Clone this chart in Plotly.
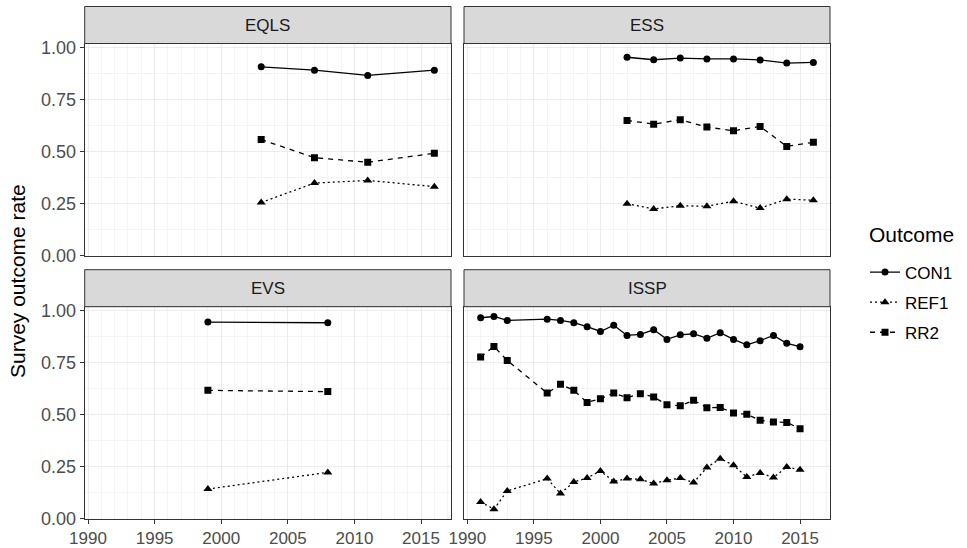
import plotly.graph_objects as go

# ---------------- data ----------------
panels = ["EQLS", "ESS", "EVS", "ISSP"]
outcomes = ["CON1", "REF1", "RR2"]

eqls_years = [2003, 2007, 2011, 2016]
eqls_con1 = [0.906, 0.890, 0.865, 0.890]
eqls_ref1 = [0.255, 0.348, 0.361, 0.331]
eqls_rr2 = [0.557, 0.470, 0.448, 0.491]

ess_years = [2002, 2004, 2006, 2008, 2010, 2012, 2014, 2016]
ess_con1 = [0.952, 0.940, 0.948, 0.944, 0.944, 0.939, 0.924, 0.927]
ess_ref1 = [0.249, 0.224, 0.239, 0.237, 0.261, 0.228, 0.271, 0.266]
ess_rr2 = [0.649, 0.631, 0.652, 0.617, 0.599, 0.620, 0.524, 0.544]

evs_years = [1999, 2008]
evs_con1 = [0.944, 0.941]
evs_ref1 = [0.142, 0.222]
evs_rr2 = [0.616, 0.610]

issp_years = [1991, 1992, 1993, 1996, 1997, 1998, 1999, 2000, 2001, 2002, 2003,
              2004, 2005, 2006, 2007, 2008, 2009, 2010, 2011, 2012, 2013, 2014, 2015]
issp_con1 = [0.965, 0.971, 0.952, 0.958, 0.952, 0.941, 0.922, 0.899, 0.929, 0.880, 0.885,
             0.907, 0.861, 0.883, 0.888, 0.866, 0.893, 0.861, 0.835, 0.855, 0.880, 0.842, 0.826]
issp_ref1 = [0.080, 0.045, 0.133, 0.192, 0.120, 0.176, 0.195, 0.229, 0.178, 0.192, 0.189,
             0.168, 0.184, 0.195, 0.173, 0.245, 0.288, 0.256, 0.200, 0.219, 0.197, 0.248, 0.235]
issp_rr2 = [0.776, 0.827, 0.760, 0.603, 0.645, 0.616, 0.558, 0.576, 0.603, 0.581, 0.600,
            0.584, 0.547, 0.542, 0.568, 0.533, 0.534, 0.507, 0.501, 0.472, 0.464, 0.462, 0.432]

x_ticks = [1990, 1995, 2000, 2005, 2010, 2015]
y_ticks = [0.00, 0.25, 0.50, 0.75, 1.00]
y_tick_labels = ["0.00", "0.25", "0.50", "0.75", "1.00"]

panel_data = {
    "EQLS": (eqls_years, {"CON1": eqls_con1, "REF1": eqls_ref1, "RR2": eqls_rr2}),
    "ESS": (ess_years, {"CON1": ess_con1, "REF1": ess_ref1, "RR2": ess_rr2}),
    "EVS": (evs_years, {"CON1": evs_con1, "REF1": evs_ref1, "RR2": evs_rr2}),
    "ISSP": (issp_years, {"CON1": issp_con1, "REF1": issp_ref1, "RR2": issp_rr2}),
}

# ---------------- styling ----------------
W, H = 967, 548
FONT = "Liberation Sans, Arial, sans-serif"
styles = {
    "CON1": dict(dash="solid", symbol="circle", size=7),
    "REF1": dict(dash="2px,3px", symbol="triangle-up", size=8),
    "RR2": dict(dash="5px,5px", symbol="square", size=7),
}

# pixel geometry -> paper
col_x = [(84.7, 451.0), (464.0, 830.0)]
row_y = [(43.5, 256.0), (306.7, 519.0)]  # plot area top/bottom in px
strip_h = 37.0

def px_x(p):
    return p / W

def px_y(p):
    return 1 - p / H

fig = go.Figure()
axis_ids = {"EQLS": ("x", "y"), "ESS": ("x2", "y2"), "EVS": ("x3", "y3"), "ISSP": ("x4", "y4")}
positions = {"EQLS": (0, 0), "ESS": (0, 1), "EVS": (1, 0), "ISSP": (1, 1)}

for panel in panels:
    years, series = panel_data[panel]
    xa, ya = axis_ids[panel]
    for oc in outcomes:
        st = styles[oc]
        fig.add_trace(go.Scatter(
            x=years, y=series[oc], xaxis=xa, yaxis=ya,
            mode="lines+markers", name=oc, legendgroup=oc,
            showlegend=(panel == "EQLS"),
            line=dict(color="black", width=1.3, dash=st["dash"]),
            marker=dict(color="black", symbol=st["symbol"], size=st["size"]),
        ))

grid_major = "#EBEBEB"
grid_minor = "#F4F4F4"

layout = dict(
    width=W, height=H,
    margin=dict(l=0, r=0, t=0, b=0, autoexpand=False),
    paper_bgcolor="white", plot_bgcolor="white",
    font=dict(family=FONT, color="#1A1A1A"),
    showlegend=True,
    legend=dict(
        font=dict(size=17, color="#000000"),
        x=px_x(865), xanchor="left", y=px_y(254.5), yanchor="top",
        tracegroupgap=5, bgcolor="rgba(0,0,0,0)",
    ),
)

shapes = []
annotations = []
for panel in panels:
    r, c = positions[panel]
    xa, ya = axis_ids[panel]
    xkey = "xaxis" if xa == "x" else "xaxis" + xa[1:]
    ykey = "yaxis" if ya == "y" else "yaxis" + ya[1:]
    x0, x1 = col_x[c]
    y0, y1 = row_y[r]
    bottom = (r == 1)
    left = (c == 0)
    layout[xkey] = dict(
        domain=[px_x(x0), px_x(x1)], anchor=ya, automargin=False,
        range=[1989.75, 2017.25], tickvals=x_ticks,
        showticklabels=bottom, ticks="outside" if bottom else "",
        ticklen=4, tickwidth=1, tickcolor="#333333",
        tickfont=dict(size=17, color="#4D4D4D", family=FONT),
        showgrid=True, gridcolor=grid_major, gridwidth=1.3,
        minor=dict(dtick=1, tick0=1990, showgrid=True, gridcolor=grid_minor, gridwidth=0.8),
        showline=True, mirror=True, linecolor="#333333", linewidth=1,
        zeroline=False,
    )
    layout[ykey] = dict(
        domain=[px_y(y1), px_y(y0)], anchor=xa, automargin=False,
        range=[-0.002, 1.018], tickvals=y_ticks, ticktext=y_tick_labels,
        showticklabels=left, ticks="outside" if left else "",
        ticklen=4, tickwidth=1, tickcolor="#333333",
        tickfont=dict(size=18, color="#4D4D4D", family=FONT),
        showgrid=True, gridcolor=grid_major, gridwidth=1.3,
        minor=dict(tickvals=[0.125, 0.375, 0.625, 0.875], showgrid=True,
                   gridcolor=grid_minor, gridwidth=0.8),
        showline=True, mirror=True, linecolor="#333333", linewidth=1,
        zeroline=False,
    )
    # strip
    shapes.append(dict(type="rect", xref="paper", yref="paper",
                       x0=px_x(x0), x1=px_x(x1), y0=px_y(y0), y1=px_y(y0 - strip_h),
                       fillcolor="#D9D9D9", line=dict(color="#333333", width=1), layer="above"))
    annotations.append(dict(text=panel, xref="paper", yref="paper",
                            x=px_x((x0 + x1) / 2), y=px_y(y0 - strip_h / 2),
                            xanchor="center", yanchor="middle", showarrow=False,
                            font=dict(size=17, color="#1A1A1A", family=FONT)))

annotations.append(dict(text="Survey outcome rate", xref="paper", yref="paper",
                        x=px_x(17), y=px_y(281), textangle=-90,
                        xanchor="center", yanchor="middle", showarrow=False,
                        font=dict(size=21, color="#000000", family=FONT)))
annotations.append(dict(text="Outcome", xref="paper", yref="paper",
                        x=px_x(867), y=px_y(235), xanchor="left", yanchor="middle",
                        showarrow=False, font=dict(size=21, color="#000000", family=FONT)))

layout["shapes"] = shapes
layout["annotations"] = annotations
fig.update_layout(**layout)

fig.write_html(
    "out.html",
    config={"displayModeBar": False},
    post_script="document.body.style.margin='0px';document.body.style.overflow='hidden';",
)
